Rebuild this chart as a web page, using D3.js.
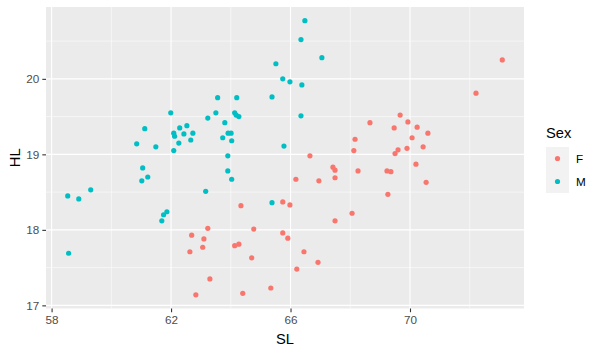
<!DOCTYPE html>
<html>
<head>
<meta charset="utf-8">
<script src="https://cdn.jsdelivr.net/npm/d3@7"></script>
<style>
  body { margin: 0; background: #fff; }
  svg { display: block; font-family: "Liberation Sans", Arial, sans-serif; }
</style>
</head>
<body>
<div id="chart"></div>
<script>
// values
const slF = [73.09, 72.21, 69.67, 68.66, 69.93, 69.47, 70.24, 70.60, 68.16, 70.07,
             68.12, 69.60, 69.50, 69.90, 70.44, 66.65, 70.20, 67.42, 67.49, 68.26,
             69.23, 69.36, 66.18, 66.95, 67.49, 70.54, 69.26, 65.74, 65.98, 68.06,
             67.49, 65.74, 65.91, 66.45, 66.92, 66.21, 65.34, 64.34, 62.69, 63.23,
             64.77, 63.10, 62.63, 63.06, 64.13, 64.27, 64.70, 63.30, 62.83, 64.40];
const hlF = [20.25, 19.81, 19.52, 19.42, 19.43, 19.35, 19.36, 19.28, 19.20, 19.22,
             19.05, 19.06, 19.01, 19.08, 19.10, 18.98, 18.87, 18.83, 18.79, 18.78,
             18.78, 18.77, 18.67, 18.65, 18.69, 18.63, 18.47, 18.37, 18.33, 18.22,
             18.12, 17.96, 17.89, 17.71, 17.57, 17.48, 17.23, 18.32, 17.93, 18.02,
             18.01, 17.88, 17.71, 17.77, 17.79, 17.81, 17.63, 17.35, 17.14, 17.16];
const slM = [66.48, 66.35, 67.05, 65.51, 65.74, 65.98, 66.38, 65.38, 63.56, 64.20,
             61.99, 63.50, 63.23, 64.13, 64.18, 64.27, 66.35, 63.80, 61.12, 62.29,
             62.53, 62.09, 62.12, 62.43, 62.73, 62.66, 62.26, 60.85, 61.49, 62.09,
             63.91, 64.01, 63.73, 64.03, 65.78, 63.90, 61.05, 61.22, 61.02, 63.90,
             64.03, 63.16, 65.38, 58.54, 58.91, 59.31, 61.69, 61.75, 61.86, 58.57];
const hlM = [20.77, 20.52, 20.28, 20.20, 20.00, 19.96, 19.92, 19.76, 19.75, 19.75,
             19.55, 19.55, 19.48, 19.55, 19.52, 19.50, 19.51, 19.42, 19.34, 19.35,
             19.38, 19.28, 19.24, 19.27, 19.28, 19.19, 19.15, 19.14, 19.10, 19.05,
             19.28, 19.28, 19.22, 19.18, 19.11, 18.98, 18.82, 18.70, 18.65, 18.78,
             18.67, 18.51, 18.36, 18.45, 18.41, 18.53, 18.12, 18.20, 18.24, 17.69];

const sexes = ["F", "M"];
const colors = ["#F8766D", "#00BFC4"];
const xTicks = [58, 62, 66, 70];
const xMinor = [60, 64, 68, 72];
const yTicks = [17, 18, 19, 20];
const yMinor = [17.5, 18.5, 19.5, 20.5];

const data = [];
slF.forEach((v, i) => data.push({ sl: v, hl: hlF[i], sex: "F" }));
slM.forEach((v, i) => data.push({ sl: v, hl: hlM[i], sex: "M" }));

const W = 600, H = 354;
const panel = { left: 46, right: 524, top: 7, bottom: 308.5 };

const svg = d3.select("#chart").append("svg")
    .attr("width", W)
    .attr("height", H);

svg.append("rect").attr("width", W).attr("height", H).attr("fill", "#fff");

// ggplot style expansion: 5% on each side
const xExt = d3.extent(data, d => d.sl);
const yExt = d3.extent(data, d => d.hl);
const xPad = (xExt[1] - xExt[0]) * 0.05;
const yPad = (yExt[1] - yExt[0]) * 0.05;

const x = d3.scaleLinear()
    .domain([xExt[0] - xPad, xExt[1] + xPad])
    .range([panel.left, panel.right]);

const y = d3.scaleLinear()
    .domain([yExt[0] - yPad, yExt[1] + yPad])
    .range([panel.bottom, panel.top]);

const color = d3.scaleOrdinal().domain(sexes).range(colors);

// panel
svg.append("rect")
    .attr("x", panel.left)
    .attr("y", panel.top)
    .attr("width", panel.right - panel.left)
    .attr("height", panel.bottom - panel.top)
    .attr("fill", "#EBEBEB");

const grid = svg.append("g").attr("stroke", "#fff");

grid.selectAll(".xminor").data(xMinor).enter().append("line")
    .attr("x1", d => x(d)).attr("x2", d => x(d))
    .attr("y1", panel.top).attr("y2", panel.bottom)
    .attr("stroke-width", 0.55);

grid.selectAll(".yminor").data(yMinor).enter().append("line")
    .attr("x1", panel.left).attr("x2", panel.right)
    .attr("y1", d => y(d)).attr("y2", d => y(d))
    .attr("stroke-width", 0.55);

grid.selectAll(".xmajor").data(xTicks).enter().append("line")
    .attr("x1", d => x(d)).attr("x2", d => x(d))
    .attr("y1", panel.top).attr("y2", panel.bottom)
    .attr("stroke-width", 1.1);

grid.selectAll(".ymajor").data(yTicks).enter().append("line")
    .attr("x1", panel.left).attr("x2", panel.right)
    .attr("y1", d => y(d)).attr("y2", d => y(d))
    .attr("stroke-width", 1.1);

// points
svg.append("g").selectAll("circle")
    .data(data)
    .enter()
    .append("circle")
    .attr("cx", d => x(d.sl))
    .attr("cy", d => y(d.hl))
    .attr("r", 2.6)
    .attr("fill", d => color(d.sex));

// axes
const xAxis = svg.append("g")
    .attr("transform", `translate(0,${panel.bottom})`)
    .call(d3.axisBottom(x).tickValues(xTicks).tickFormat(d3.format("d")).tickSize(3.7).tickPadding(3));

const yAxis = svg.append("g")
    .attr("transform", `translate(${panel.left},0)`)
    .call(d3.axisLeft(y).tickValues(yTicks).tickFormat(d3.format("d")).tickSize(3.7).tickPadding(3));

[xAxis, yAxis].forEach(a => {
    a.select(".domain").remove();
    a.selectAll(".tick line").attr("stroke", "#333333").attr("stroke-width", 1.1);
    a.selectAll(".tick text")
        .attr("fill", "#4D4D4D")
        .style("font-size", "11.7px")
        .style("font-family", "'Liberation Sans', Arial, sans-serif");
});

// axis titles
svg.append("text")
    .attr("x", (panel.left + panel.right) / 2)
    .attr("y", 344)
    .attr("text-anchor", "middle")
    .style("font-size", "14.7px")
    .text("SL");

svg.append("text")
    .attr("transform", `translate(20,${(panel.top + panel.bottom) / 2}) rotate(-90)`)
    .attr("text-anchor", "middle")
    .style("font-size", "14.7px")
    .text("HL");

// legend
const legend = svg.append("g").attr("transform", "translate(546,0)");

legend.append("text")
    .attr("x", 0)
    .attr("y", 137.5)
    .style("font-size", "14.7px")
    .text("Sex");

const keys = legend.selectAll(".key")
    .data(sexes)
    .enter()
    .append("g")
    .attr("transform", (d, i) => `translate(0,${147 + i * 23})`);

keys.append("rect")
    .attr("width", 23)
    .attr("height", 23)
    .attr("fill", "#F2F2F2");

keys.append("circle")
    .attr("cx", 11.5)
    .attr("cy", 11.5)
    .attr("r", 2.6)
    .attr("fill", d => color(d));

keys.append("text")
    .attr("x", 30)
    .attr("y", 15.8)
    .style("font-size", "11.7px")
    .text(d => d);
</script>
</body>
</html>
